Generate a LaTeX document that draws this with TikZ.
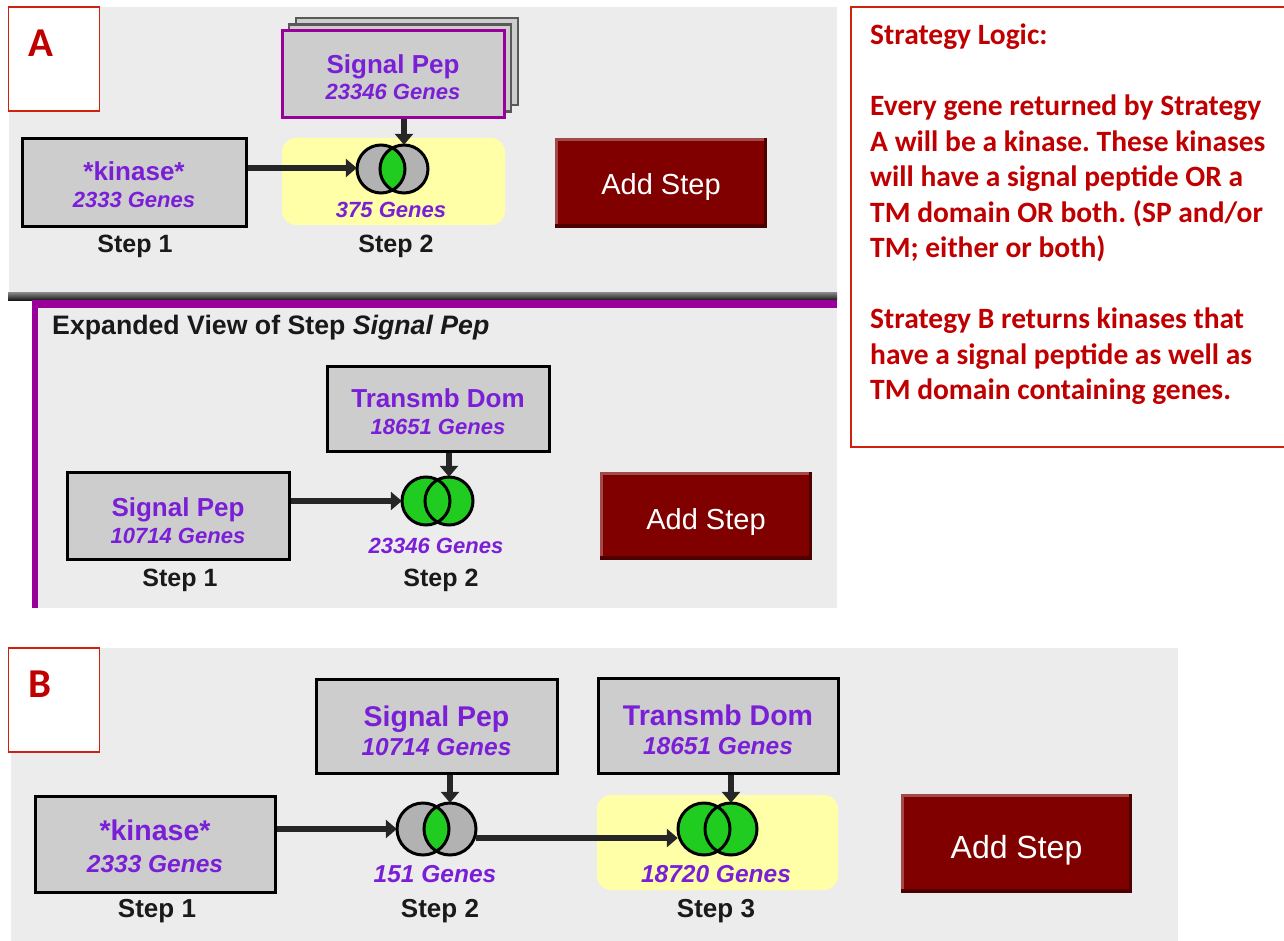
\documentclass[tikz,border=0pt]{standalone}
\usepackage{fontspec}
\setmainfont{Liberation Sans}
\newfontfamily\calib{Carlito}
\usetikzlibrary{arrows.meta}

\definecolor{panelgray}{HTML}{ECECEC}
\definecolor{boxgray}{HTML}{CDCDCD}
\definecolor{venngray}{HTML}{B2B2B2}
\definecolor{venngreen}{HTML}{1FCC1F}
\definecolor{genepurple}{HTML}{7A1FD6}
\definecolor{framepurple}{HTML}{990099}
\definecolor{hilite}{HTML}{FFFFA8}
\definecolor{btnred}{HTML}{800000}
\definecolor{btnlight}{HTML}{A24A4A}
\definecolor{btndark}{HTML}{4C0000}
\definecolor{notered}{HTML}{C00000}
\definecolor{noteframe}{HTML}{D0200E}
\definecolor{arrowgray}{HTML}{262626}
\definecolor{stepink}{HTML}{1A1A1A}

\tikzset{
  stepbox/.style={draw=black, line width=3pt, fill=boxgray, inner sep=0pt},
  stackbox/.style={draw=black!65, line width=2.5pt, fill=boxgray, inner sep=0pt,
    minimum width=222pt, minimum height=87pt},
  boxtitle/.style={text=genepurple, font=\bfseries\fontsize{#1}{#1}\selectfont, anchor=base, inner sep=0pt},
  boxtitle/.default=26,
  genecount/.style={text=genepurple, font=\bfseries\itshape\fontsize{#1}{#1}\selectfont, anchor=base, inner sep=0pt},
  genecount/.default=22,
  steplabel/.style={text=stepink, font=\bfseries\fontsize{#1}{#1}\selectfont, anchor=base, inner sep=0pt},
  steplabel/.default=25,
  venncirc/.style={circle, inner sep=0pt, minimum size=#1, fill=venngray},
  vennline/.style={draw=black, line width=3pt},
  arr/.style={draw=arrowgray, line width=5.5pt, -{Triangle[length=11pt,width=18pt]}},
  addbtn/.style={fill=btnred, inner sep=0pt,
    path picture={
      \fill[btnlight] (path picture bounding box.north west) rectangle ([yshift=-3pt]path picture bounding box.north east);
      \fill[btnlight] (path picture bounding box.north west) rectangle ([xshift=3pt]path picture bounding box.south west);
      \fill[btndark] ([yshift=4pt]path picture bounding box.south west) rectangle (path picture bounding box.south east);
      \fill[btndark] ([xshift=-3pt]path picture bounding box.north east) rectangle (path picture bounding box.south east);
    }},
  btntext/.style={text=white, inner sep=0pt, anchor=base, font=\fontsize{#1}{#1}\selectfont},
  tagbox/.style={draw=noteframe, line width=1.5pt, fill=white, inner sep=0pt,
    minimum width=91pt, minimum height=104pt},
  tagletter/.style={text=notered, font=\calib\bfseries\fontsize{41}{41}\selectfont, inner sep=0pt},
  highlight/.style={fill=hilite, rounded corners=14pt},
}

\begin{document}
\begin{tikzpicture}[x=1pt, y=-1pt]
\useasboundingbox (0,0) rectangle (1284,941);
\fill[white] (0,0) rectangle (1284,941);

% ---------- Strategy A ----------
\fill[panelgray] (9,7) rectangle (837,293);
\shade[top color=black!45, bottom color=black!90] (8,292) rectangle (837,300);

\fill[highlight] (282,138) rectangle (505,225);

% stacked result boxes behind the combined step
\node[stackbox] (sigAc) at (407,61.5) {};
\node[stackbox] (sigAb) at (400,68) {};
\node[stepbox, draw=framepurple, minimum width=222pt, minimum height=87pt] (sigA) at (393,74.5) {};
\node[boxtitle] at (393,74) {Signal Pep};
\node[genecount] at (393,100) {23346 Genes};

\node[stepbox, minimum width=224pt, minimum height=88pt] (kinA) at (134,183) {};
\node[boxtitle] at (134,181) {*kinase*};
\node[genecount] at (134,208) {2333 Genes};

% intersection: grey circles with green overlap
\node[venncirc=48pt] (vAL) at (381,169) {};
\node[venncirc=48pt] (vAR) at (404,169) {};
\begin{scope}
  \clip (vAL.center) circle[radius=24];
  \fill[venngreen] (vAR.center) circle[radius=24];
\end{scope}
\draw[vennline] (vAL.center) circle[radius=24] (vAR.center) circle[radius=24];
\node[genecount] (cntA) at (391,218) {375 Genes};

\draw[arr] (kinA.east |- 0,168) -- (vAL.west |- 0,168);
\draw[arr] (vAR.north |- sigA.south) -- (vAR.north);

\node[steplabel] at (135,252) {Step 1};
\node[steplabel] at (396,252) {Step 2};

\node[addbtn, minimum width=212pt, minimum height=90pt] (addA) at (661,183) {};
\node[btntext=29] at (addA.center |- 0,195) {Add Step};

\node[tagbox] (tagA) at (54,59) {};
\node[tagletter] at (41,43.5) {A};

% ---------- expanded view of the combined step ----------
\fill[framepurple] (32,300) rectangle (837,308);
\fill[framepurple] (32,300) rectangle (38,608);
\fill[panelgray] (38,308) rectangle (837,608);
\node[anchor=base west, inner sep=0pt, text=black!90, font=\bfseries\fontsize{26.7}{26.7}\selectfont]
  (expTitle) at (52,334) {Expanded View of Step \textit{Signal Pep}};

\node[stepbox, minimum width=222pt, minimum height=85pt] (trE) at (438,408.5) {};
\node[boxtitle] at (438,407) {Transmb Dom};
\node[genecount] at (438,434) {18651 Genes};

\node[stepbox, minimum width=222pt, minimum height=87pt] (spE) at (178,515.5) {};
\node[boxtitle] at (178,516) {Signal Pep};
\node[genecount] at (178,543) {10714 Genes};

% union: both circles green
\node[venncirc=48pt, fill=venngreen] (vEL) at (426,501) {};
\node[venncirc=48pt, fill=venngreen] (vER) at (449,501) {};
\draw[vennline] (vEL.center) circle[radius=24] (vER.center) circle[radius=24];
\node[genecount] at (436,553) {23346 Genes};

\draw[arr] (spE.east |- vEL.west) -- (vEL.west);
\draw[arr] (vER.north |- trE.south) -- (vER.north);

\node[steplabel] at (180,586) {Step 1};
\node[steplabel] at (441,586) {Step 2};

\node[addbtn, minimum width=212pt, minimum height=88pt] (addE) at (706,516) {};
\node[btntext=29] at (addE.center |- 0,529) {Add Step};

% ---------- Strategy B ----------
\fill[panelgray] (11,648) rectangle (1178,941);

\fill[highlight] (597,795) rectangle (838,890);

\node[stepbox, minimum width=241pt, minimum height=94pt] (spB) at (436.5,726) {};
\node[boxtitle=28.5] at (436.5,726) {Signal Pep};
\node[genecount=24.5] at (436.5,755) {10714 Genes};

\node[stepbox, minimum width=240pt, minimum height=95pt] (trB) at (718,725.5) {};
\node[boxtitle=28.5] at (718,725) {Transmb Dom};
\node[genecount=24.5] at (718,754) {18651 Genes};

\node[stepbox, minimum width=240pt, minimum height=96pt] (kinB) at (155,844) {};
\node[boxtitle=28.5] at (155,840) {*kinase*};
\node[genecount=24.5] at (155,872) {2333 Genes};

% step 2: intersection
\node[venncirc=52pt] (vB2L) at (423,829) {};
\node[venncirc=52pt] (vB2R) at (450,829) {};
\begin{scope}
  \clip (vB2L.center) circle[radius=26];
  \fill[venngreen] (vB2R.center) circle[radius=26];
\end{scope}
\draw[vennline] (vB2L.center) circle[radius=26] (vB2R.center) circle[radius=26];
\node[genecount=24.5] at (435,882) {151 Genes};

% step 3: union
\node[venncirc=52pt, fill=venngreen] (vB3L) at (704,829) {};
\node[venncirc=52pt, fill=venngreen] (vB3R) at (731,829) {};
\draw[vennline] (vB3L.center) circle[radius=26] (vB3R.center) circle[radius=26];
\node[genecount=24.5] at (716,882) {18720 Genes};

\draw[arr] (kinB.east |- vB2L.west) -- (vB2L.west);
\draw[arr] (vB2R.north |- spB.south) -- (vB2R.north);
\draw[arr] (vB2R.east |- 0,838) -- (vB3L.west |- 0,838);
\draw[arr] (vB3R.north |- trB.south) -- (vB3R.north);

\node[steplabel=26] at (157,917) {Step 1};
\node[steplabel=26] at (440,917) {Step 2};
\node[steplabel=26] at (716,917) {Step 3};

\node[addbtn, minimum width=231pt, minimum height=99pt] (addB) at (1016.5,843.5) {};
\node[btntext=32] at (addB.center |- 0,858) {Add Step};

\node[tagbox] (tagB) at (54,700) {};
\node[tagletter] at (40,684.5) {B};

% ---------- explanation ----------
\draw[noteframe, line width=1.5pt] (851,7) rectangle (1295,447);
\node[anchor=north west, align=left, inner sep=0pt, text=notered,
  font=\calib\bfseries\frenchspacing\fontsize{29.5}{35.5}\selectfont] (logic) at (870,24) {%
  Strategy Logic:\\[35.5pt]
  Every gene returned by Strategy\\
  A will be a kinase. These kinases\\
  will have a signal peptide OR a\\
  TM domain OR both. (SP and/or\\
  TM; either or both)\\[35.5pt]
  Strategy B returns kinases that\\
  have a signal peptide as well as\\
  TM domain containing genes.};
\end{tikzpicture}
\end{document}
